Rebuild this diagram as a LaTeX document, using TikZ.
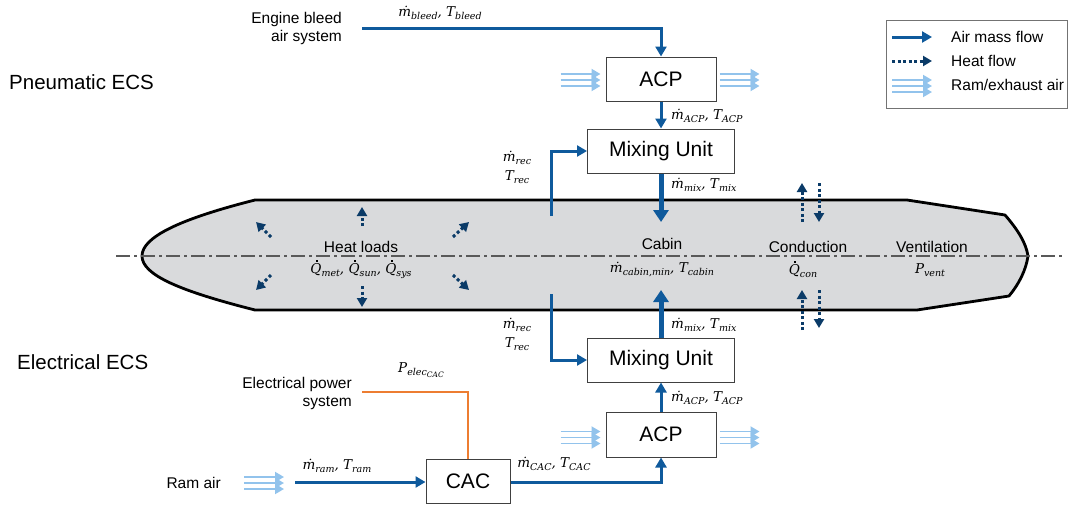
\documentclass[tikz,border=0pt]{standalone}
\usepackage{fontspec}
\setmainfont{Liberation Sans}
\newfontfamily\mlf{DejaVu Serif}[UprightFont=* Italic]
\usetikzlibrary{arrows.meta,calc}
\definecolor{airblue}{HTML}{0F5A9C}
\definecolor{heatnavy}{HTML}{0B3B68}
\definecolor{ramblue}{HTML}{92C3EC}
\definecolor{cabinfill}{HTML}{D9DADC}
\definecolor{elecorange}{HTML}{ED7D31}
\definecolor{axisgray}{HTML}{595959}
\newcommand{\ramarr}[1]{%
  \foreach \dy in {-6,0,6} {\draw[ramflow] ($(#1)+(0,\dy)$) -- ++(40,0);}}
\newcommand{\lsb}[1]{\raisebox{-3pt}{\fontsize{9.5}{11}\selectfont #1}}
\newcommand{\lssb}[1]{\raisebox{-2pt}{\fontsize{7.5}{9}\selectfont #1}}
\newcommand{\Qd}{\makebox[0pt][l]{\hspace{5.4pt}\raisebox{11.6pt}{\rule{1.8pt}{1.8pt}}}Q}
\begin{document}
\begin{tikzpicture}[x=1pt,y=-1pt,
  box/.style={draw=black!75,line width=1pt,fill=white,inner sep=0pt,font=\fontsize{21}{24}\selectfont},
  air/.style={draw=airblue,line width=3pt,-{Triangle[length=10pt,width=11pt]}},
  airthick/.style={draw=airblue,line width=5pt,-{Triangle[length=12pt,width=15pt]}},
  heat/.style={draw=heatnavy,line width=3pt,dash pattern=on 3pt off 2.5pt,-{Triangle[length=9pt,width=10pt]}},
  ramflow/.style={draw=ramblue,line width=1.9pt,-{Triangle[length=9pt,width=10pt]}},
  elec/.style={draw=elecorange,line width=1.6pt},
  lbl/.style={font=\fontsize{15.5}{18}\selectfont,inner sep=0pt},
  ttl/.style={font=\fontsize{20.5}{24}\selectfont,inner sep=0pt},
  ml/.style={font=\mlf\fontsize{13.5}{19}\selectfont,inner sep=0pt},
]
\useasboundingbox (0,0) rectangle (1068,506);

% cabin
\draw[line width=2.8pt,fill=cabinfill,line join=round]
  (255,200) -- (907,200) -- (1005,215)
  .. controls (1018,230) and (1026,243) .. (1028,256)
  .. controls (1026,270) and (1019,284) .. (1009,296)
  -- (917,310) -- (255,310)
  .. controls (180,291) and (142,275) .. (142,256)
  .. controls (142,237) and (180,219) .. (255,200) -- cycle;
\draw[axisgray,line width=1.2pt,dash pattern=on 14pt off 4pt on 3pt off 4pt] (116,256) -- (1062,256);

% titles
\node[ttl,anchor=west] (pneu) at (9,82) {Pneumatic ECS};
\node[ttl,anchor=west] (elecs) at (17,362) {Electrical ECS};

% boxes
\node[box,minimum width=110pt,minimum height=44pt] (acp1) at (661,79) {ACP};
\node[box,minimum width=147pt,minimum height=44pt] (mix1) at (661,151) {Mixing Unit};
\node[box,minimum width=147pt,minimum height=44pt] (mix2) at (661,360) {Mixing Unit};
\node[box,minimum width=110pt,minimum height=45pt] (acp2) at (661,434.5) {ACP};
\node[box,minimum width=84pt,minimum height=44pt] (cac) at (468,481) {CAC};

% sources
\node[lbl,align=right,anchor=east] (bleedsys) at (342,28) {Engine bleed\\air system};
\coordinate (bleedstart) at (362,28);
\draw[air] (bleedstart) -| (acp1.north);
\node[ml] (lblbleed) at (440,13) {ṁ\lsb{bleed}, T\lsb{bleed}};

\node[lbl,align=right,anchor=east] (eps) at (352,393) {Electrical power\\system};
\coordinate (elecstart) at (362,392);
\draw[elec] (elecstart) -| (cac.north);
\node[ml] (lblpel) at (421,370) {P\lsb{elec\lssb{CAC}}};

\node[lbl,anchor=east] (ramtxt) at (221,483) {Ram air};
\coordinate (ramin) at (244,483);
\ramarr{ramin}
\coordinate (ramstart) at (295,482);
\draw[air] (ramstart) -- (cac.west |- ramstart);
\node[ml] (lblram) at (337,466) {ṁ\lsb{ram}, T\lsb{ram}};

% ram/exhaust at ACPs
\ramarr{$(acp1.west)+(-45,1)$}
\ramarr{$(acp1.east)+(3,1)$}
\ramarr{$(acp2.west)+(-45,3)$}
\ramarr{$(acp2.east)+(3,3)$}

% CAC -> ACP2 -> Mix2 -> cabin
\draw[air] (cac.east |- ramstart) -| (acp2.south);
\node[ml] (lblcac) at (554,464) {ṁ\lsb{CAC}, T\lsb{CAC}};
\draw[air] (acp2.north) -- (mix2.south);
\node[ml,anchor=west] (lblacp2) at (671,398) {ṁ\lsb{ACP}, T\lsb{ACP}};
\coordinate (cabinbot) at (661,290);
\draw[airthick] (mix2.north) -- (cabinbot);
\node[ml,anchor=west] (lblmix2) at (671,325) {ṁ\lsb{mix}, T\lsb{mix}};

% ACP1 -> Mix1 -> cabin
\draw[air] (acp1.south) -- (mix1.north);
\node[ml,anchor=west] (lblacp1) at (671,116) {ṁ\lsb{ACP}, T\lsb{ACP}};
\coordinate (cabintop) at (661,222);
\draw[airthick] (mix1.south) -- (cabintop);
\node[ml,anchor=west] (lblmix1) at (671,185) {ṁ\lsb{mix}, T\lsb{mix}};

% recirculation
\coordinate (rec1) at (551,216);
\draw[air] (rec1) |- (mix1.west);
\node[ml,align=center] (lblrec1) at (517,167.5) {ṁ\lsb{rec}\\T\lsb{rec}};
\coordinate (rec2) at (551,294);
\draw[air] (rec2) |- (mix2.west);
\node[ml,align=center] (lblrec2) at (517,334.5) {ṁ\lsb{rec}\\T\lsb{rec}};

% cabin texts
\node[lbl] (heatloads) at (361,247) {Heat loads};
\node[ml] (lblq) at (361,269) {\Qd\lsb{met}, \Qd\lsb{sun}, \Qd\lsb{sys}};
\node[lbl] (cabin) at (662,244) {Cabin};
\node[ml] (lblcab) at (662,269) {ṁ\lsb{cabin,min}, T\lsb{cabin}};
\node[lbl] (cond) at (808,247) {Conduction};
\node[ml] (lblcon) at (803,269) {\Qd\lsb{con}};
\node[lbl] (vent) at (932,247) {Ventilation};
\node[ml] (lblvent) at (930,270) {P\lsb{vent}};

% heat load arrows
\draw[heat] (362,226) -- (362,207);
\draw[heat] (362,286) -- (362,307);
\draw[heat] (271,237) -- (256,222);
\draw[heat] (453,237) -- (469,222);
\draw[heat] (271,275) -- (256,290);
\draw[heat] (453,275) -- (469,290);

% conduction arrows
\draw[heat] (802,222) -- (802,183);
\draw[heat] (819,183) -- (819,222);
\draw[heat] (802,330) -- (802,290);
\draw[heat] (819,290) -- (819,328);

% legend
\draw[black!55,line width=1pt] (886,20) rectangle (1067,108);
\coordinate (lg1a) at (892,37); \coordinate (lg1b) at (932,37);
\draw[air] (lg1a) -- (lg1b);
\node[lbl,anchor=west] (lgt1) at (951,37) {Air mass flow};
\coordinate (lg2a) at (892,61); \coordinate (lg2b) at (932,61);
\draw[heat] (lg2a) -- (lg2b);
\node[lbl,anchor=west] (lgt2) at (951,61) {Heat flow};
\coordinate (lg3a) at (892,86);
\ramarr{lg3a}
\node[lbl,anchor=west] (lgt3) at (951,85) {Ram/exhaust air};
\end{tikzpicture}
\end{document}
